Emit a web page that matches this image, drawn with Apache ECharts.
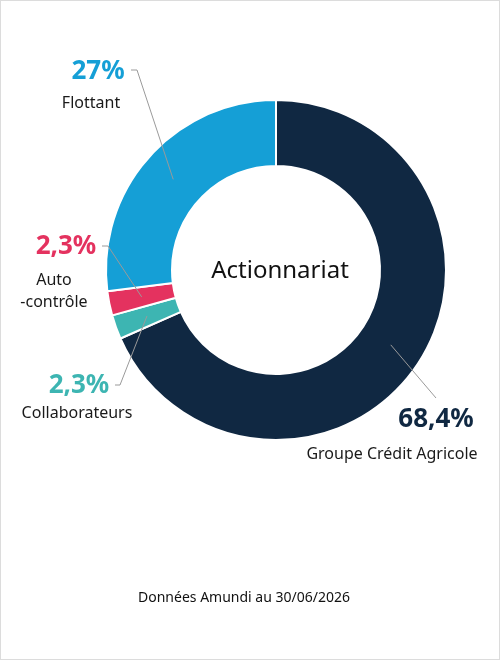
<!DOCTYPE html>
<html>
<head>
<meta charset="utf-8">
<script src="https://cdn.jsdelivr.net/npm/echarts@6/dist/echarts.min.js"></script>
<style>
  html, body { margin: 0; padding: 0; background: #fff; }
  #chart { position: absolute; left: 0; top: 0; width: 500px; height: 660px; }
  #frame { position: absolute; left: 0; top: 0; width: 500px; height: 660px; box-sizing: border-box; border: 1px solid #dcdcdc; pointer-events: none; }
</style>
</head>
<body>
<div id="chart"></div>
<div id="frame"></div>
<script>
// ---- data ----
const categories = ['Groupe Crédit Agricole', 'Collaborateurs', 'Auto\n-contrôle', 'Flottant'];
const values = [68.4, 2.3, 2.3, 27];
const percentLabels = ['68,4%', '2,3%', '2,3%', '27%'];
const colors = ['#102842', '#3db5b2', '#e4325f', '#159fd6'];
const centerTitle = 'Actionnariat';
const footerText = 'Données Amundi au 30/06/2026';

// ---- layout (label placement only) ----
const CX = 276, CY = 270;
const pctPos = [[436, 420], [79, 386], [66, 247], [98, 72]];
const namePos = [[392, 454], [77, 413], [54, 291], [91, 103]];
const lineTail = [
  [[436, 398], [436, 398]],
  [[120, 385], [115, 385]],
  [[108, 246], [102, 246]],
  [[137, 70], [131, 70]]
];
const FONT = "'Noto Sans', 'Open Sans', sans-serif";

const ringData = categories.map((c, i) => ({ name: c, value: values[i], itemStyle: { color: colors[i] } }));
const pctData = categories.map((c, i) => ({ name: c, value: values[i], label: { color: colors[i] } }));

const chart = echarts.init(document.getElementById('chart'), null, { renderer: 'canvas' });
chart.setOption({
  animation: false,
  graphic: [
    { type: 'text', style: { text: centerTitle, x: 280, y: 271, align: 'center', verticalAlign: 'middle', font: "24px " + FONT, fill: '#111' } },
    { type: 'text', style: { text: footerText, x: 244, y: 598, align: 'center', verticalAlign: 'middle', font: "14px " + FONT, fill: '#111' } }
  ],
  series: [
    {
      type: 'pie',
      z: 2,
      center: [CX, CY],
      radius: [104, 170],
      startAngle: 90,
      clockwise: true,
      silent: true,
      avoidLabelOverlap: false,
      itemStyle: { borderColor: '#fff', borderWidth: 2 },
      label: {
        show: true, position: 'outside', formatter: '{b}',
        fontFamily: FONT, fontSize: 16, color: '#1a1a1a', lineHeight: 22
      },
      labelLine: { show: false },
      labelLayout: function (p) {
        const pos = namePos[p.dataIndex];
        return { x: pos[0], y: pos[1], align: 'center', verticalAlign: 'middle' };
      },
      data: ringData
    },
    {
      type: 'pie',
      z: 10,
      zlevel: 1,
      center: [CX, CY],
      radius: [0, 137],
      startAngle: 90,
      clockwise: true,
      silent: true,
      avoidLabelOverlap: false,
      itemStyle: { color: 'rgba(0,0,0,0)', borderWidth: 0 },
      label: {
        show: true, position: 'outside',
        formatter: function (p) { return percentLabels[p.dataIndex]; },
        fontFamily: FONT, fontSize: 26, fontWeight: 'bold'
      },
      labelLine: { show: true, lineStyle: { color: '#9a9a9a', width: 1 } },
      labelLayout: function (p) {
        const i = p.dataIndex;
        let cum = 0;
        for (let k = 0; k < i; k++) cum += values[k];
        const total = values.reduce((a, b) => a + b, 0);
        const ang = (90 - 360 * (cum + values[i] / 2) / total) * Math.PI / 180;
        const start = [CX + 137 * Math.cos(ang), CY - 137 * Math.sin(ang)];
        const pos = pctPos[i];
        return {
          x: pos[0], y: pos[1], align: 'center', verticalAlign: 'middle',
          labelLinePoints: [start, lineTail[i][0], lineTail[i][1]]
        };
      },
      data: pctData
    }
  ]
});
</script>
</body>
</html>
